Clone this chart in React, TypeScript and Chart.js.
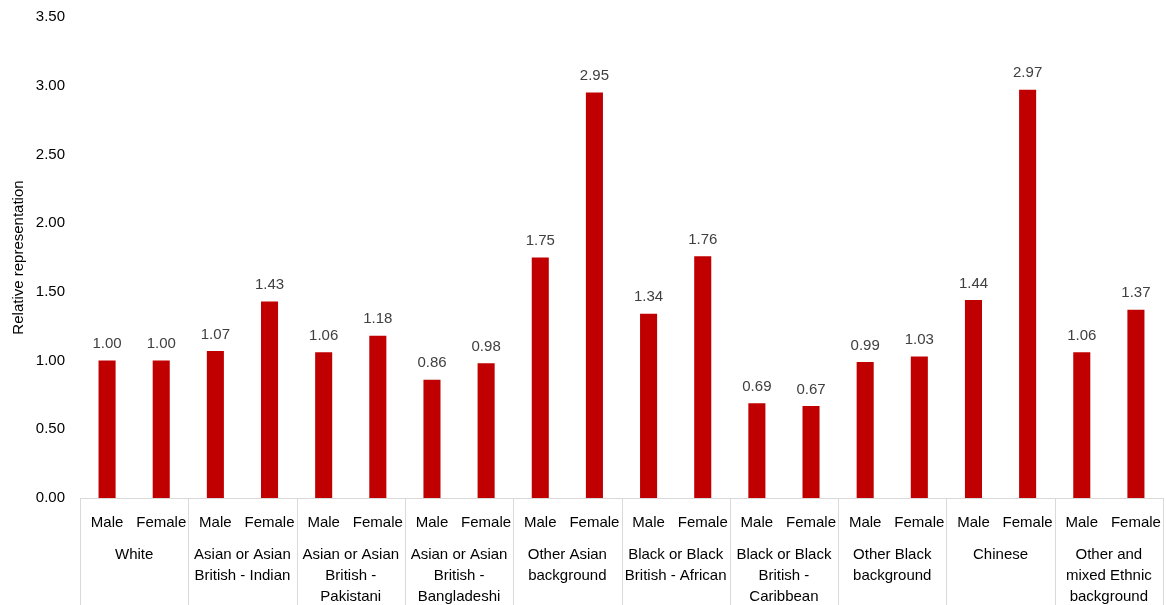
import React, { useEffect, useRef } from "react";
import { Chart, registerables } from "chart.js";

Chart.register(...registerables);

// Ethnic groups along the bottom; each one holds a Male and a Female bar
const groups: string[][] = [
  ["White"],
  ["Asian or Asian", "British - Indian"],
  ["Asian or Asian", "British -", "Pakistani"],
  ["Asian or Asian", "British -", "Bangladeshi"],
  ["Other Asian", "background"],
  ["Black or Black", "British - African"],
  ["Black or Black", "British -", "Caribbean"],
  ["Other Black", "background"],
  ["Chinese"],
  ["Other and", "mixed Ethnic", "background"],
];
const sexes = ["Male", "Female"];
const maleValues = [1.0, 1.07, 1.06, 0.86, 1.75, 1.34, 0.69, 0.99, 1.44, 1.06];
const femaleValues = [1.0, 1.43, 1.18, 0.98, 2.95, 1.76, 0.67, 1.03, 2.97, 1.37];
const yTicks = { min: 0, max: 3.5, step: 0.5 };

const FONT = "'Liberation Sans', Arial, sans-serif";
const BAR = "#C00000";
const LINE = "#D9D9D9";

// Male/Female pairs laid out in group order
const barLabels: string[] = groups.flatMap(() => sexes);
const barValues: number[] = groups.flatMap((_, i) => [maleValues[i], femaleValues[i]]);

// Value text above each bar
const valueLabels = {
  id: "valueLabels",
  afterDatasetsDraw(chart: Chart) {
    const { ctx } = chart;
    const meta = chart.getDatasetMeta(0);
    ctx.save();
    ctx.font = `15px ${FONT}`;
    ctx.fillStyle = "#404040";
    ctx.textAlign = "center";
    ctx.textBaseline = "bottom";
    meta.data.forEach((el: any, i: number) => {
      ctx.fillText(barValues[i].toFixed(2), el.x, el.y - 9);
    });
    ctx.restore();
  },
};

// Vertical dividers between groups beneath the axis line
const groupDividers = {
  id: "groupDividers",
  afterDraw(chart: Chart) {
    const { ctx, chartArea } = chart;
    const gx: any = chart.scales.groups;
    ctx.save();
    ctx.strokeStyle = LINE;
    ctx.lineWidth = 1;
    for (let k = 0; k <= groups.length; k++) {
      const x = Math.round(gx.getPixelForValue(k - 0.5)) + 0.5;
      ctx.beginPath();
      ctx.moveTo(x, chartArea.bottom);
      ctx.lineTo(x, chart.height);
      ctx.stroke();
    }
    ctx.restore();
  },
};

const fitX = (h: number) => (s: any) => {
  s.height = h;
  s.paddingLeft = 0;
  s.paddingRight = 0;
};

export default function App() {
  const canvasRef = useRef<HTMLCanvasElement | null>(null);

  useEffect(() => {
    if (!canvasRef.current) return;
    const chart = new Chart(canvasRef.current, {
      type: "bar",
      data: {
        labels: barLabels,
        datasets: [
          {
            data: barValues,
            backgroundColor: BAR,
            borderWidth: 0,
            categoryPercentage: 1,
            barPercentage: 0.315,
          },
        ],
      },
      options: {
        animation: false,
        responsive: true,
        maintainAspectRatio: false,
        layout: { padding: { top: 17, right: 3, left: 0, bottom: 0 } },
        plugins: {
          legend: { display: false },
          tooltip: { enabled: false },
        },
        scales: {
          x: {
            type: "category",
            position: "bottom",
            weight: 0,
            offset: true,
            grid: { display: false, drawTicks: false },
            border: { display: true, color: LINE, width: 1 },
            ticks: {
              autoSkip: false,
              maxRotation: 0,
              minRotation: 0,
              padding: 14,
              color: "#000000",
              font: { family: FONT, size: 15, lineHeight: 1.4 },
            },
            afterFit: fitX(40),
          },
          groups: {
            type: "category",
            position: "bottom",
            weight: 1,
            offset: true,
            labels: groups as any,
            grid: { display: false, drawTicks: false },
            border: { display: false },
            ticks: {
              autoSkip: false,
              maxRotation: 0,
              minRotation: 0,
              padding: 6,
              color: "#000000",
              font: { family: FONT, size: 15, lineHeight: 1.4 },
            },
            afterFit: fitX(67),
          },
          y: {
            min: yTicks.min,
            max: yTicks.max,
            grid: { display: false, drawTicks: false },
            border: { display: false },
            ticks: {
              stepSize: yTicks.step,
              padding: 15,
              color: "#000000",
              font: { family: FONT, size: 15 },
              callback: (v: any) => Number(v).toFixed(2),
            },
            title: {
              display: true,
              text: "Relative representation",
              color: "#000000",
              font: { family: FONT, size: 15 },
              padding: { top: 10, bottom: 0 },
            },
            afterFit: (s: any) => {
              s.width = 80;
              s.paddingTop = 0;
              s.paddingBottom = 0;
            },
          },
        },
      },
      plugins: [valueLabels, groupDividers],
    });
    return () => chart.destroy();
  }, []);

  return (
    <div style={{ position: "fixed", left: 0, top: 0, width: 1166, height: 605, background: "#fff" }}>
      <canvas ref={canvasRef} />
    </div>
  );
}
